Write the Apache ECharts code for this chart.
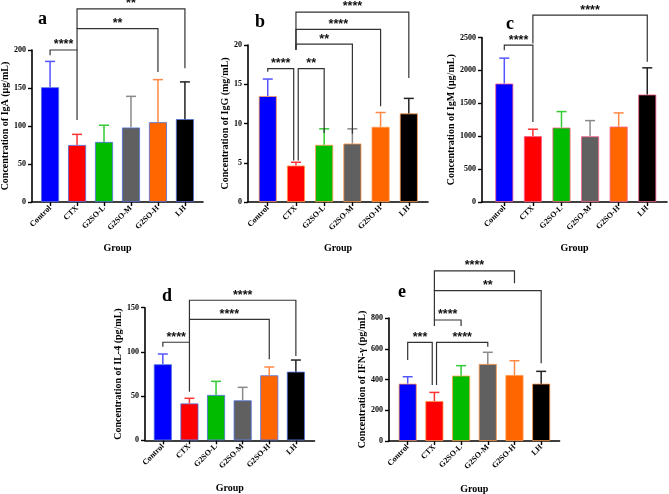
<!DOCTYPE html>
<html>
<head>
<meta charset="utf-8">
<script src="https://cdn.jsdelivr.net/npm/echarts@6/dist/echarts.min.js"></script>
<style>
  html, body { margin: 0; padding: 0; background: #fff; }
  #chart { width: 669px; height: 494px; }
</style>
</head>
<body>
<div id="chart"></div>
<script>
const groups = ['Control', 'CTX', 'G2SO-L', 'G2SO-M', 'G2SO-H', 'LH'];
const barColors = ['#0000ff', '#ff0000', '#00bb00', '#606060', '#ff6600', '#000000'];
const errColors = ['#5555ff', '#ff3333', '#33cc33', '#8a8a8a', '#ff8844', '#222222'];

// mean and SD per group
const igaMean = [151, 75, 79, 98, 105, 109];
const igaSd = [34, 14, 22, 41, 56, 49];
const iggMean = [13.5, 4.64, 7.28, 7.45, 9.57, 11.28];
const iggSd = [2.16, 0.42, 2.04, 1.87, 1.83, 1.92];
const igmMean = [1800, 1000, 1131, 999, 1146, 1633];
const igmSd = [386, 106, 243, 238, 208, 406];
const il4Mean = [86, 41.7, 51.3, 45.2, 73.5, 77.6];
const il4Sd = [11.6, 5.8, 15.4, 14.7, 9.4, 13.2];
const ifnMean = [373, 260, 425, 501, 429, 373];
const ifnSd = [45, 56, 65, 76, 93, 80];

// significance brackets: [from, to, level, leftEnd, rightEnd, stars]
const bracketsA = [[0, 1, 200, 193, 108, '****'], [1, 4, 228, 200, 171, '**'], [1, 5, 254, 228, 176, '**']];
const bracketsB = [[1, 5, 24.2, 19.4, 15.8, '****'], [1, 4, 22.0, 19.4, 12.2, '****'], [1, 3, 20.1, 19.4, 8.7, '**'],
  [0, 0.92, 17.0, 16.6, 5.3, '****'], [1.08, 2, 17.0, 5.3, 8.8, '**']];
const bracketsC = [[1, 5, 2840, 2410, 2130, '****'], [0, 1, 2383, 2307, 1216, '****']];
const bracketsD = [[1, 5, 158.4, 136.9, 95.4, '****'], [1, 4, 136.9, 111, 91.6, '****'], [0, 1, 110.9, 105.9, 55, '****']];
const bracketsE = [[1, 4, 1106, 978, 1026, '****'], [1, 5, 978, 787, 505, '**'], [1, 2, 787, 748, 748, '****'],
  [0, 0.92, 642, 527, 364, '***'], [1.08, 3, 642, 364, 613, '****']];

const panels = [
  { letter: 'a', name: 'Concentration of IgA (μg/mL)', mean: igaMean, sd: igaSd, br: bracketsA,
    grid: { left: 32, top: 50, width: 171, height: 152 }, xmin: -0.67, xmax: 5.67, ymax: 200, step: 50, nameGap: 18, letterPos: [38, 10] },
  { letter: 'b', name: 'Concentration of IgG (mg/mL)', mean: iggMean, sd: iggSd, br: bracketsB,
    grid: { left: 248, top: 45, width: 180, height: 157 }, xmin: -0.7, xmax: 5.68, ymax: 20, step: 5, nameGap: 15, letterPos: [255, 13] },
  { letter: 'c', name: 'Concentration of IgM (μg/mL)', mean: igmMean, sd: igmSd, br: bracketsC,
    grid: { left: 482, top: 37.5, width: 185, height: 164.5 }, xmin: -0.78, xmax: 5.69, ymax: 2500, step: 500, nameGap: 24, letterPos: [506, 15] },
  { letter: 'd', name: 'Concentration of IL-4 (pg/mL)', mean: il4Mean, sd: il4Sd, br: bracketsD,
    grid: { left: 145, top: 307.7, width: 169.5, height: 132.6 }, xmin: -0.67, xmax: 5.7, ymax: 150, step: 50, nameGap: 22, letterPos: [162, 287] },
  { letter: 'e', name: 'Concentration of IFN-γ (pg/mL)', mean: ifnMean, sd: ifnSd, br: bracketsE,
    grid: { left: 389, top: 318, width: 170.6, height: 123 }, xmin: -0.7, xmax: 5.69, ymax: 800, step: 200, nameGap: 20, letterPos: [398, 283] }
];

const serif = 'Liberation Serif';
const chart = echarts.init(document.getElementById('chart'));

const grid = [], xAxis = [], yAxis = [], series = [], graphic = [];

panels.forEach((p, k) => {
  grid.push(Object.assign({ outerBoundsMode: 'none', containLabel: false }, p.grid));
  xAxis.push({
    type: 'value', gridIndex: k, min: p.xmin, max: p.xmax,
    name: 'Group', nameLocation: 'middle', nameGap: k < 3 ? 41 : 43,
    nameTextStyle: { fontFamily: serif, fontWeight: 'bold', fontSize: 10, color: '#000' },
    axisLine: { onZero: false, lineStyle: { color: '#000', width: 1.6 } },
    axisTick: { show: true, length: 4, lineStyle: { color: '#000', width: 1.4 }, customValues: [0, 1, 2, 3, 4, 5] },
    axisLabel: {
      customValues: [0, 1, 2, 3, 4, 5], rotate: 45, margin: 5,
      fontFamily: serif, fontWeight: 'bold', fontSize: 8, color: '#000',
      formatter: v => groups[Math.round(v)]
    },
    splitLine: { show: false }
  });
  yAxis.push({
    type: 'value', gridIndex: k, min: 0, max: p.ymax, interval: p.step,
    name: p.name, nameLocation: 'middle', nameGap: p.nameGap,
    nameTextStyle: { fontFamily: serif, fontWeight: 'bold', fontSize: 10, color: '#000' },
    axisLine: { show: true, onZero: false, lineStyle: { color: '#000', width: 1.6 } },
    axisTick: { show: true, length: 4, lineStyle: { color: '#000', width: 1.4 } },
    axisLabel: { fontFamily: serif, fontWeight: 'bold', fontSize: 8, color: '#000', margin: 6, formatter: v => String(v) },
    splitLine: { show: false }
  });

  series.push({
    type: 'bar', xAxisIndex: k, yAxisIndex: k, barWidth: 18,
    data: p.mean.map((v, i) => [i, v]),
    itemStyle: {
      color: params => barColors[params.dataIndex],
      borderColor: params => errColors[params.dataIndex],
      borderWidth: 0.8
    },
    silent: true
  });

  // upper error bars
  series.push({
    type: 'custom', xAxisIndex: k, yAxisIndex: k, z: 3, silent: true,
    data: p.mean.map((v, i) => [i, v, v + p.sd[i]]),
    renderItem: (params, api) => {
      const i = api.value(0);
      const a = api.coord([i, api.value(1)]);
      const b = api.coord([i, api.value(2)]);
      const c = errColors[params.dataIndex];
      return {
        type: 'group', children: [
          { type: 'line', shape: { x1: a[0], y1: a[1], x2: b[0], y2: b[1] }, style: { stroke: c, lineWidth: 1.5 } },
          { type: 'line', shape: { x1: b[0] - 5, y1: b[1], x2: b[0] + 5, y2: b[1] }, style: { stroke: c, lineWidth: 1.5 } }
        ]
      };
    }
  });

  // significance brackets
  series.push({
    type: 'custom', xAxisIndex: k, yAxisIndex: k, z: 4, silent: true, clip: false,
    data: p.br.map(b => b.slice(0, 5)),
    renderItem: (params, api) => {
      const x1 = api.value(0), x2 = api.value(1), lv = api.value(2);
      const p1 = api.coord([x1, lv]), p2 = api.coord([x2, lv]);
      const e1 = api.coord([x1, api.value(3)]), e2 = api.coord([x2, api.value(4)]);
      return {
        type: 'group', children: [
          { type: 'polyline', shape: { points: [e1, p1, p2, e2] }, style: { stroke: '#333', lineWidth: 1.2, fill: null } },
          { type: 'text', x: (p1[0] + p2[0]) / 2, y: p1[1] + 1.5,
            style: { text: p.br[params.dataIndex][5], align: 'center', verticalAlign: 'bottom',
              font: 'bold 12.5px "Liberation Sans"', fill: '#111' } }
        ]
      };
    }
  });

  graphic.push({
    type: 'text', left: p.letterPos[0], top: p.letterPos[1],
    style: { text: p.letter, font: 'bold 18px "Liberation Serif"', fill: '#000' }
  });
});

chart.setOption({
  backgroundColor: '#fff',
  animation: false,
  grid: grid,
  xAxis: xAxis,
  yAxis: yAxis,
  series: series,
  graphic: graphic
});
</script>
</body>
</html>
